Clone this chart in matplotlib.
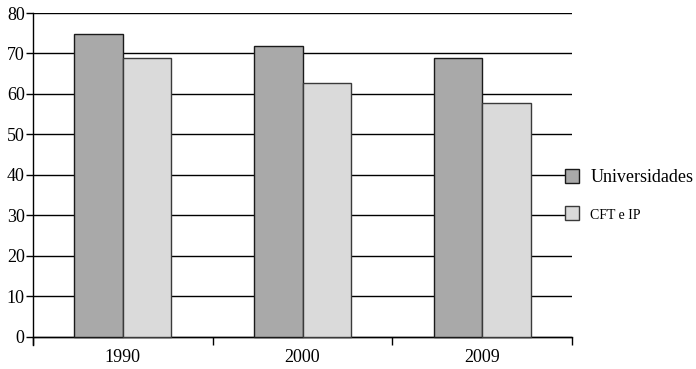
import matplotlib
matplotlib.use("Agg")
import matplotlib.pyplot as plt
from matplotlib.patches import Patch
import numpy as np

years = ["1990", "2000", "2009"]
universidades = [74.8, 71.9, 68.9]
cft_ip = [68.9, 62.7, 57.8]
series_names = ["Universidades", "CFT e IP"]
yticks = [0, 10, 20, 30, 40, 50, 60, 70, 80]

plt.rcParams['font.family'] = ['Liberation Serif', 'DejaVu Serif']

fig = plt.figure(figsize=(6.96, 3.69), dpi=100)
ax = fig.add_axes([33/696, 1-345/369, (572-33)/696, (345-13)/369])

x = np.arange(len(years))
w = 0.27
c1, c2 = "#a9a9a9", "#dadada"
ax.bar(x - w/2, universidades, w, color=c1, edgecolor="#1a1a1a", linewidth=1.0, zorder=3)
ax.bar(x + w/2, cft_ip, w, color=c2, edgecolor="#3a3a3a", linewidth=1.0, zorder=3)

ax.set_xlim(-0.5, len(years) - 0.5)
ax.set_ylim(-2, 80)
ax.set_yticks(yticks)
ax.yaxis.grid(True, color="black", linewidth=1.0, zorder=0)
ax.set_axisbelow(True)
ax.tick_params(axis='y', direction='out', length=5, width=1, labelsize=13, pad=1, colors="black")

for s in ["top", "right"]:
    ax.spines[s].set_visible(False)
ax.spines["bottom"].set_position(("data", 0))
ax.spines["left"].set_linewidth(1.0)
ax.spines["bottom"].set_linewidth(1.0)

ax.set_xticks(x)
ax.set_xticklabels(years, fontsize=13)
ax.tick_params(axis='x', which='major', length=0, pad=9)
ax.set_xticks(np.arange(-0.5, len(years)), minor=True)
ax.tick_params(axis='x', which='minor', direction='out', length=6, width=1)

handles = [Patch(facecolor=c1, edgecolor="#1a1a1a"), Patch(facecolor=c2, edgecolor="#3a3a3a")]
leg = ax.legend(handles, series_names, loc="center left", bbox_to_anchor=(0.987, 0.45),
                frameon=False, fontsize=13, handlelength=0.8, handleheight=0.8,
                handletextpad=0.6, labelspacing=1.1, borderaxespad=0, borderpad=0)
leg.get_texts()[1].set_fontsize(10)

fig.savefig("out.png", dpi=100)
